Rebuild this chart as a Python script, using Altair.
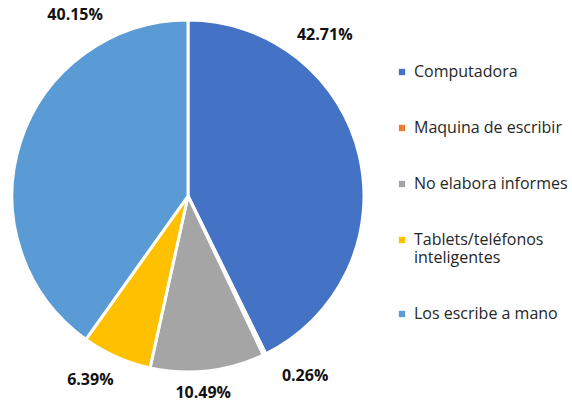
import altair as alt
import pandas as pd

# Share of respondents by how they prepare their reports
categories = [
    "Computadora",
    "Maquina de escribir",
    "No elabora informes",
    "Tablets/teléfonos inteligentes",
    "Los escribe a mano",
]
shares = [42.71, 0.26, 10.49, 6.39, 40.15]
colors = ["#4472C4", "#ED7D31", "#A5A5A5", "#FFC000", "#5B9BD5"]

# Where each percentage label sits around the pie (degrees clockwise from 12 o'clock, px from centre)
label_angle = [40.4, 147.0, 175.6, 208.0, 328.0]
label_radius = [211, 215, 198, 208, 213]

df = pd.DataFrame({
    "category": categories,
    "share": shares,
    "order": list(range(len(categories))),
    "label": [f"{v:.2f}%" for v in shares],
    "label_angle": label_angle,
    "label_radius": label_radius,
})

cx, cy, r = 188, 196, 176

color_scale = alt.Scale(domain=categories, range=colors)

pie = alt.Chart(df).mark_arc(
    outerRadius=r, stroke="white", strokeWidth=3
).encode(
    theta=alt.Theta("share:Q", stack=True),
    order=alt.Order("order:Q"),
    color=alt.Color(
        "category:N",
        scale=color_scale,
        sort=categories,
        legend=alt.Legend(
            title=None,
            orient="none",
            legendX=394,
            legendY=64,
            symbolType="square",
            symbolSize=40,
            symbolStrokeWidth=0,
            labelFont="Open Sans",
            labelFontSize=16,
            labelColor="#262626",
            labelLimit=220,
            rowPadding=40,
            labelExpr="split(datum.label, ' inteligentes')[0] == datum.label ? datum.label : [split(datum.label, ' ')[0], 'inteligentes']",
        ),
    ),
    x=alt.value(cx),
    y=alt.value(cy),
)

labels = alt.Chart(df).mark_text(
    font="Open Sans", fontSize=16, fontWeight="bold", color="#111111",
    align="center", baseline="middle",
).encode(
    theta=alt.Theta("label_angle:Q", scale=alt.Scale(domain=[0, 360], range=[0, 6.283185307])),
    radius=alt.Radius("label_radius:Q", scale=alt.Scale(domain=[0, 215], range=[0, 215])),
    text="label:N",
    x=alt.value(cx),
    y=alt.value(cy),
)

chart = alt.layer(pie, labels).resolve_scale(theta="independent").properties(
    width=572, height=404, padding=0, autosize=alt.AutoSizeParams(type="none")
).configure_view(stroke=None)

chart.save("out.html", embed_options={"renderer": "svg", "actions": False})
